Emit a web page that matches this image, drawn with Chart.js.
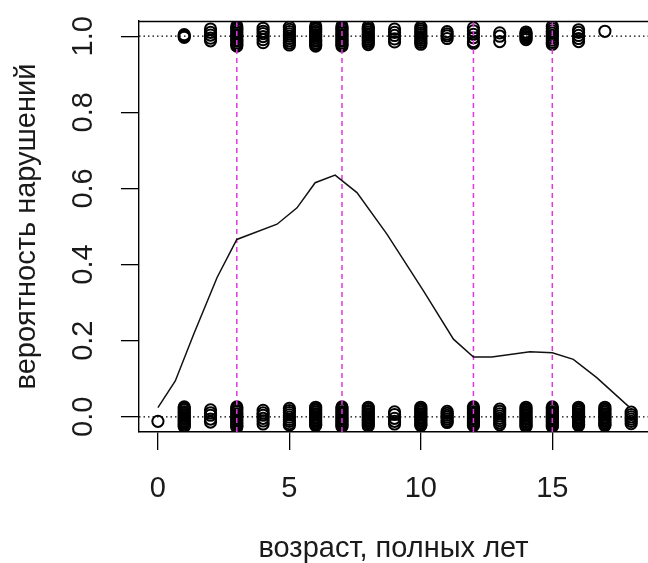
<!DOCTYPE html>
<html><head><meta charset="utf-8">
<script src="https://cdn.jsdelivr.net/npm/chart.js@4.4.1/dist/chart.umd.min.js"></script>
<style>html,body{margin:0;padding:0;background:#fff;}canvas{display:block;}</style>
</head><body>
<canvas id="c" width="648" height="563" style="width:648px;height:563px"></canvas>
<script>
// ---- data ----
const ages = [0,1,2,3,4,5,6,7,8,9,10,11,12,13,14,15,16,17,18];
// observed outcome 0 (jittered vertically), one list per age
const zeroY = [
  [-0.012],
  [0.026,0.022,0.018,0.013,0.009,0.005,0.001,-0.003,-0.007,-0.011,-0.015,-0.019,-0.023,-0.026],
  [0.018,0.010,0.004,-0.006,-0.014],
  [0.026,0.022,0.017,0.013,0.008,0.004,0.000,-0.004,-0.008,-0.012,-0.016,-0.020,-0.024,-0.027],
  [0.017,0.010,0.004,-0.004,-0.011,-0.019],
  [0.022,0.016,0.011,0.005,-0.001,-0.007,-0.012,-0.018,-0.022],
  [0.025,0.021,0.017,0.012,0.008,0.004,0.000,-0.004,-0.008,-0.012,-0.016,-0.020,-0.023],
  [0.026,0.022,0.018,0.013,0.009,0.005,0.001,-0.003,-0.007,-0.011,-0.015,-0.019,-0.023,-0.026],
  [0.025,0.021,0.016,0.012,0.008,0.004,0.000,-0.004,-0.008,-0.012,-0.016,-0.020,-0.024],
  [0.013,0.006,-0.004,-0.012,-0.019],
  [0.025,0.021,0.017,0.012,0.008,0.004,0.000,-0.004,-0.008,-0.012,-0.016,-0.020,-0.023],
  [0.014,0.009,0.004,-0.001,-0.006,-0.011,-0.015],
  [0.026,0.022,0.018,0.013,0.009,0.005,0.001,-0.003,-0.007,-0.011,-0.015,-0.019,-0.023],
  [0.020,0.014,0.008,0.002,-0.004,-0.010,-0.016,-0.021],
  [0.025,0.021,0.017,0.013,0.009,0.005,0.001,-0.003,-0.007,-0.011,-0.015,-0.019,-0.023,-0.026],
  [0.026,0.022,0.018,0.013,0.009,0.005,0.001,-0.003,-0.007,-0.011,-0.015,-0.019,-0.023,-0.026],
  [0.025,0.021,0.017,0.012,0.008,0.004,0.000,-0.004,-0.008,-0.012,-0.016,-0.020,-0.023],
  [0.025,0.021,0.017,0.012,0.008,0.004,0.000,-0.004,-0.008,-0.012,-0.016,-0.020,-0.023],
  [0.012,0.006,0.000,-0.006,-0.012,-0.018]
];
// observed outcome 1 (jittered vertically), one list per age
const oneY = [
  [],
  [1.004,1.000,0.997],
  [1.019,1.010,1.003,0.995,0.988],
  [1.027,1.022,1.018,1.013,1.009,1.004,1.000,0.996,0.991,0.987,0.982,0.978,0.974],
  [1.021,1.013,1.007,0.999,0.991,0.983],
  [1.024,1.018,1.012,1.006,1.000,0.994,0.988,0.982,0.977],
  [1.027,1.022,1.018,1.013,1.009,1.004,1.000,0.996,0.991,0.987,0.982,0.978,0.974],
  [1.027,1.022,1.018,1.013,1.009,1.004,1.000,0.996,0.991,0.987,0.982,0.978,0.974],
  [1.025,1.020,1.016,1.011,1.006,1.002,0.997,0.992,0.988,0.983,0.978],
  [1.019,1.010,1.002,0.993,0.985],
  [1.024,1.019,1.014,1.009,1.004,0.999,0.994,0.989,0.984,0.979],
  [1.012,1.006,1.001,0.994],
  [1.022,1.014,1.005,0.996,0.986,0.981],
  [1.009,1.000,0.986],
  [1.011,1.007,1.003,0.999,0.995,0.991],
  [1.026,1.020,1.014,1.008,1.002,0.996,0.990,0.984,0.979],
  [1.017,1.010,1.002,0.994,0.986],
  [1.013],
  []
];
// smoothed probability curve
const curveX = [0.0,0.66,1.36,2.25,3.0,4.53,5.29,5.98,6.74,7.57,8.71,10.1,11.24,12.0,12.7,14.15,15.0,15.8,16.69,17.95];
const curveY = [0.024,0.094,0.217,0.366,0.466,0.506,0.549,0.615,0.635,0.589,0.480,0.331,0.204,0.157,0.157,0.171,0.168,0.151,0.103,0.024];
// cut points (vertical dashed lines) and reference levels
const cutAges = [3,7,12,15];
const refLevels = [0,1];
const xTicks = [0,5,10,15];
const yTicks = [0,0.2,0.4,0.6,0.8,1.0];
const xLabel = 'возраст, полных лет';
const yLabel = 'вероятность нарушений';

const X_MIN = -0.72, X_MAX = 18.64, Y_MIN = -0.04, Y_MAX = 1.04;
const FAMILY = "'Liberation Sans', Arial, sans-serif";
const FONT = {family: FAMILY, size: 29};

const pointsData = [];
ages.forEach((a, i) => {
  zeroY[i].forEach(v => pointsData.push({x: a, y: v}));
  oneY[i].forEach(v => pointsData.push({x: a, y: v}));
});

const datasets = [];
datasets.push({
  type: 'scatter', data: pointsData, order: 5,
  pointStyle: 'circle', pointRadius: 5.6, pointBorderWidth: 2,
  pointBackgroundColor: 'rgba(0,0,0,0)', pointBorderColor: '#000', showLine: false
});
refLevels.forEach(l => datasets.push({
  type: 'line', data: [{x: X_MIN, y: l}, {x: X_MAX, y: l}], order: 3,
  borderColor: '#000', borderWidth: 1.3, borderDash: [1.5, 3], pointRadius: 0, fill: false
}));
cutAges.forEach(a => datasets.push({
  type: 'line', data: [{x: a, y: Y_MIN}, {x: a, y: Y_MAX}], order: 2,
  borderColor: '#e038e0', borderWidth: 1.5, borderDash: [5, 4], pointRadius: 0, fill: false
}));
datasets.push({
  type: 'line', data: curveX.map((x, i) => ({x, y: curveY[i]})), order: 1,
  borderColor: '#111', borderWidth: 1.5, pointRadius: 0, tension: 0, fill: false
});

const framePlugin = {
  id: 'frame',
  afterDraw(chart) {
    const {ctx, chartArea: ca} = chart;
    ctx.save();
    ctx.strokeStyle = '#000'; ctx.lineWidth = 1.4;
    ctx.beginPath();
    ctx.moveTo(ca.left, ca.top + 0.5); ctx.lineTo(ca.right + 5, ca.top + 0.5);
    ctx.stroke();
    ctx.restore();
  }
};

new Chart(document.getElementById('c'), {
  data: {datasets},
  plugins: [framePlugin],
  options: {
    responsive: false, animation: false, devicePixelRatio: 1,
    layout: {autoPadding: false, padding: {top: 21, left: 0, right: 0, bottom: 0}},
    plugins: {legend: {display: false}, tooltip: {enabled: false}},
    events: [],
    scales: {
      x: {
        type: 'linear', position: 'bottom', min: X_MIN, max: X_MAX,
        afterBuildTicks: s => { s.ticks = xTicks.map(v => ({value: v})); },
        afterFit: s => { s.height = 131; s.paddingLeft = 0; s.paddingRight = 0; },
        grid: {drawOnChartArea: false, drawTicks: true, tickLength: 18, color: '#000', lineWidth: 1.3},
        border: {display: true, color: '#000', width: 1.4},
        ticks: {font: FONT, color: '#1a1a1a', padding: 22, maxRotation: 0, autoSkip: false},
        title: {display: true, text: xLabel, font: {family: FAMILY, size: 29, lineHeight: 1.0}, color: '#1a1a1a', padding: {top: 0, bottom: 0}}
      },
      y: {
        type: 'linear', position: 'left', min: Y_MIN, max: Y_MAX,
        afterBuildTicks: s => { s.ticks = yTicks.map(v => ({value: v})); },
        afterFit: s => { s.width = 139; s.paddingTop = 0; s.paddingBottom = 0; },
        grid: {drawOnChartArea: false, drawTicks: true, tickLength: 18, color: '#000', lineWidth: 1.3},
        border: {display: true, color: '#000', width: 1.4},
        ticks: {font: FONT, color: '#1a1a1a', padding: 17, minRotation: 90, maxRotation: 90, crossAlign: 'center', autoSkip: false,
                callback: v => Number(v).toFixed(1)},
        title: {display: true, text: yLabel, font: FONT, color: '#1a1a1a', padding: {top: 10, bottom: 0}}
      }
    }
  }
});
</script>
</body></html>
